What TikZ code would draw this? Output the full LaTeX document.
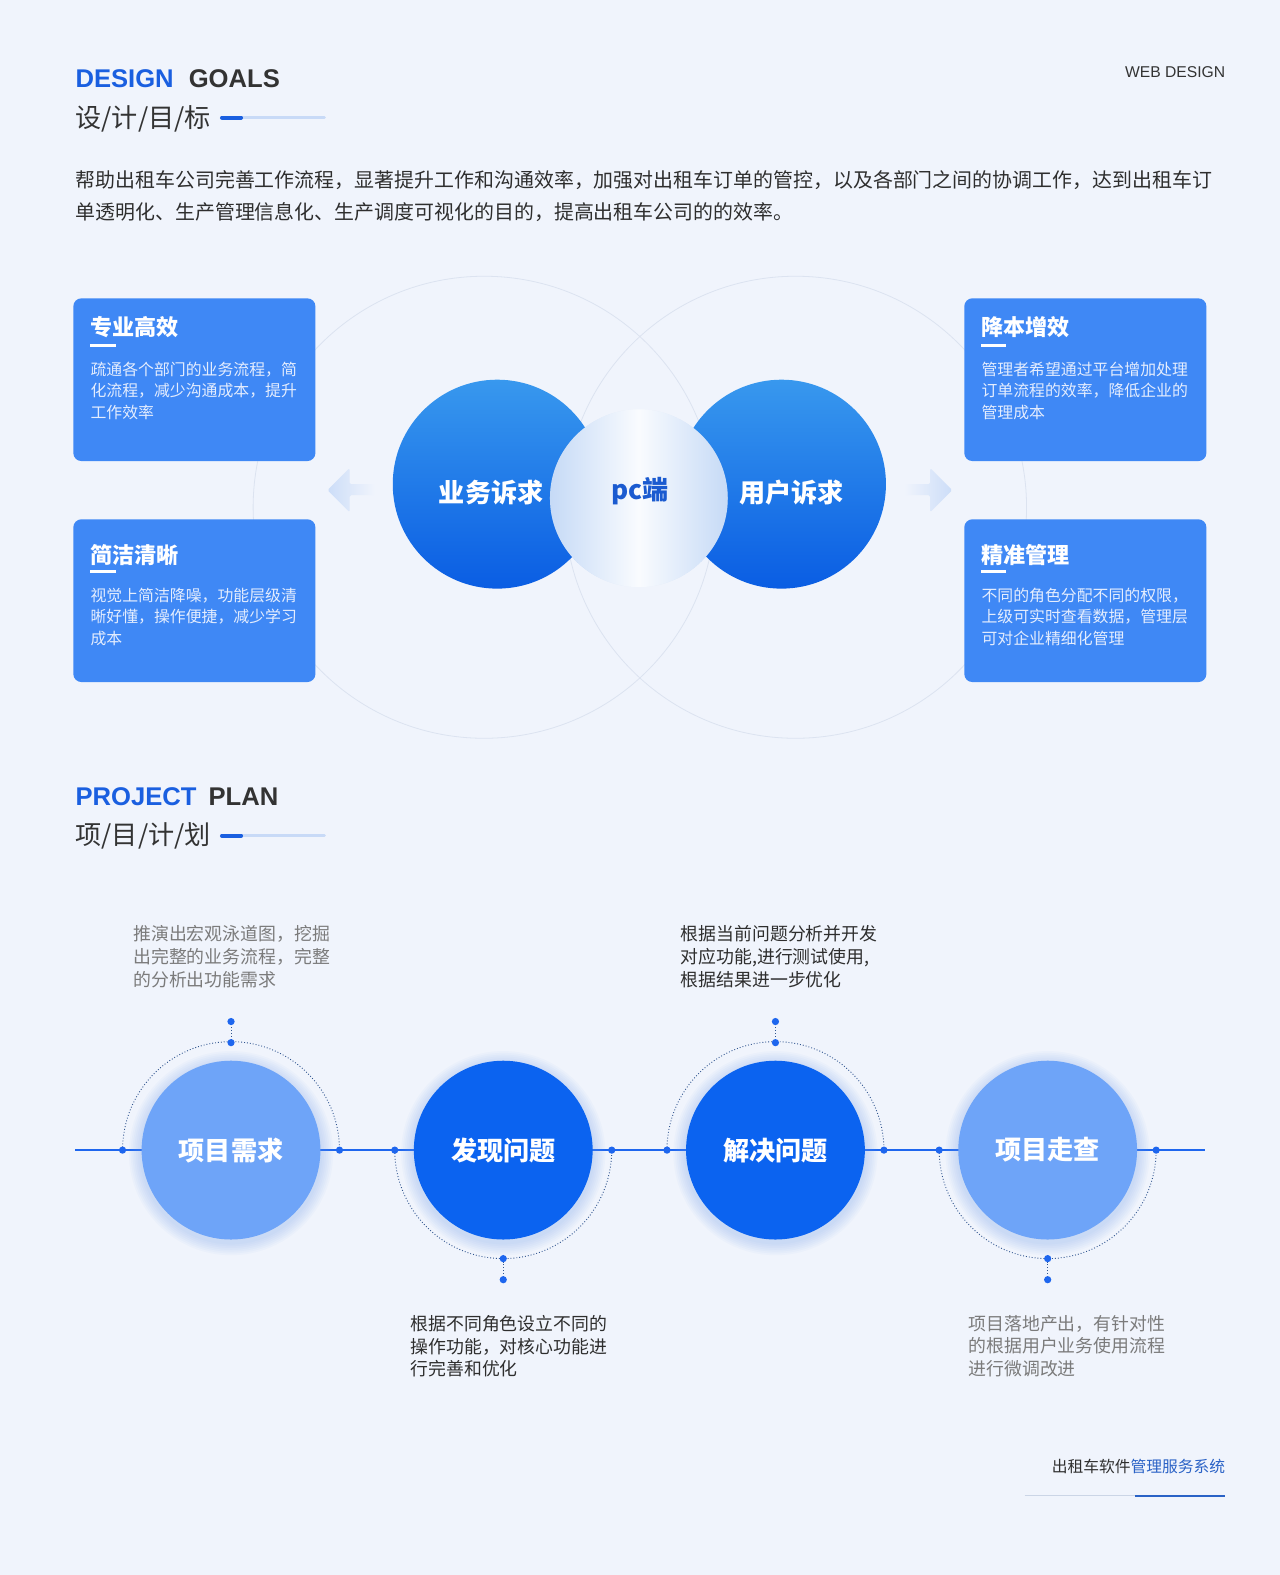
\documentclass[tikz,border=0pt]{standalone}
\usepackage{fontspec}
\setmainfont{Noto Sans CJK SC}
\newfontfamily\latinhead{Liberation Sans}
\usetikzlibrary{positioning,fadings}
\definecolor{pageBg}{HTML}{F0F4FC}
\definecolor{headBlue}{HTML}{1A5FE0}
\definecolor{headDark}{HTML}{333333}
\definecolor{ruleLight}{HTML}{C8DAF7}
\definecolor{bodyInk}{HTML}{2E2E2E}
\definecolor{noteGrey}{HTML}{7B7B7B}
\definecolor{cardBlue}{HTML}{3F88F5}
\definecolor{cardText}{HTML}{E4EDFE}
\definecolor{orbTop}{HTML}{3898EE}
\definecolor{orbBottom}{HTML}{0A5DE3}
\definecolor{glassEdge}{HTML}{8DB6EE}
\definecolor{glassCore}{HTML}{F4F8FE}
\definecolor{pcInk}{HTML}{1B5BD0}
\definecolor{ghostLine}{HTML}{DCE3F0}
\definecolor{ghostArrow}{HTML}{CCDDF8}
\definecolor{stepLight}{HTML}{6EA4F8}
\definecolor{stepDeep}{HTML}{0B63F0}
\definecolor{glowBlue}{HTML}{6C9CF2}
\definecolor{lineBlue}{HTML}{1E66EE}
\definecolor{dotInk}{HTML}{30558F}
\definecolor{footBlue}{HTML}{2A62C6}
\definecolor{footRule}{HTML}{CBD5E6}

\tikzfading[name=glassveil, top color=transparent!50, middle color=transparent!100, bottom color=transparent!50]

\begin{document}
\begin{tikzpicture}[
  x=1pt, y=-1pt,
  headword/.style={inner sep=0pt, text=headDark, font=\latinhead\bfseries\fontsize{25.5}{30}\selectfont},
  subhead/.style={anchor=west, inner sep=0pt, text=headDark, font=\fontsize{26}{30}\selectfont},
  ruleSoft/.style={ruleLight, line width=3pt, line cap=round},
  ruleStrong/.style={headBlue, line width=4pt, line cap=round},
  lead/.style={anchor=north west, inner sep=0pt, align=left, text=bodyInk, font=\fontsize{19.85}{31}\selectfont},
  card/.style={rounded corners=8pt, fill=cardBlue, minimum width=241pt, minimum height=162pt, inner sep=0pt},
  cardtitle/.style={anchor=west, inner sep=0pt, text=white, font=\fontsize{22}{26}\selectfont\bfseries},
  cardtext/.style={anchor=north west, inner sep=0pt, align=left, text=cardText, font=\fontsize{15.8}{21.6}\selectfont},
  cardrule/.style={white, line width=2.5pt},
  ghost/.style={ghostLine, line width=0.8pt},
  orb/.style={circle, minimum size=208pt, inner sep=0pt, top color=orbTop, bottom color=orbBottom},
  orblabel/.style={inner sep=0pt, text=white, font=\fontsize{26}{30}\selectfont\bfseries},
  glass/.style={circle, minimum size=177pt, inner sep=0pt, left color=glassEdge, right color=glassEdge, middle color=glassCore},
  pclabel/.style={inner sep=0pt, text=pcInk, font=\fontsize{26}{30}\selectfont\bfseries},
  timeline/.style={lineBlue, line width=2pt},
  stepdisc/.style={circle, minimum size=178pt, inner sep=0pt, text=white, font=\fontsize{26}{30}\selectfont\bfseries},
  dotarc/.style={dotInk, line width=0.9pt, dash pattern=on 0.9pt off 2pt},
  knob/.style={fill=lineBlue},
  note/.style={anchor=north west, inner sep=0pt, align=left, font=\fontsize{17.8}{22.5}\selectfont}
]
\useasboundingbox[fill=pageBg] (0,0) rectangle (1274,1568);

  % ----------------------------------------------------
  % Header: DESIGN GOALS
  % ----------------------------------------------------
  \node[headword, anchor=base west] (goalsHead) at (75,87) {\textcolor{headBlue}{DESIGN}\hspace{15pt}GOALS};
  \node[subhead] (goalsSub) at (75,118) {设/计/目/标};
  \coordinate (goalsRuleA) at (221,117);
  \coordinate (goalsRuleB) at (323,117);
  \coordinate (goalsRuleC) at (240,117);
  \draw[ruleSoft] (goalsRuleA) -- (goalsRuleB);
  \draw[ruleStrong] (goalsRuleA) -- (goalsRuleC);

  \node[inner sep=0pt, anchor=east, text=headDark, font=\latinhead\fontsize{15.6}{18}\selectfont] (webTag) at (1220,72) {WEB DESIGN};

  \node[lead] (goalsLead) at (75,170) {帮助出租车公司完善工作流程，显著提升工作和沟通效率，加强对出租车订单的管控，以及各部门之间的协调工作，达到出租车订\\单透明化、生产管理信息化、生产调度可视化的目的，提高出租车公司的的效率。};

  % ----------------------------------------------------
  % Goals: faint rings, arrows, cards, orbs
  % ----------------------------------------------------
  \draw[ghost] (482,505) circle[radius=230pt];
  \draw[ghost] (792,505) circle[radius=230pt];

  \shade[left color=ghostArrow, right color=pageBg, rounded corners=1.5pt]
    (326,488) -- (348,466) -- (348,482) -- (373,482) -- (373,493) -- (348,493) -- (348,510) -- cycle;
  \shade[left color=pageBg, right color=ghostArrow, rounded corners=1.5pt]
    (948,488) -- (926,466) -- (926,482) -- (900,482) -- (900,493) -- (926,493) -- (926,510) -- cycle;

  % card 1
  \node[card] (cardPro) at (193.5,378) {};
  \node[cardtitle] (cardProTitle) at (90,326) {专业高效};
  \draw[cardrule] (90,344) -- (115,344);
  \node[cardtext] (cardProText) at (90,360) {疏通各个部门的业务流程，简\\化流程，减少沟通成本，提升\\工作效率};

  % card 2
  \node[card] (cardCost) at (1080.5,378) {};
  \node[cardtitle] (cardCostTitle) at (977,326) {降本增效};
  \draw[cardrule] (977,344) -- (1002,344);
  \node[cardtext] (cardCostText) at (977,360) {管理者希望通过平台增加处理\\订单流程的效率，降低企业的\\管理成本};

  % card 3
  \node[card] (cardClear) at (193.5,598) {};
  \node[cardtitle] (cardClearTitle) at (90,553) {简洁清晰};
  \draw[cardrule] (90,569) -- (115,569);
  \node[cardtext] (cardClearText) at (90,585) {视觉上简洁降噪，功能层级清\\晰好懂，操作便捷，减少学习\\成本};

  % card 4
  \node[card] (cardExact) at (1080.5,598) {};
  \node[cardtitle] (cardExactTitle) at (977,553) {精准管理};
  \draw[cardrule] (977,569) -- (1002,569);
  \node[cardtext] (cardExactText) at (977,585) {不同的角色分配不同的权限，\\上级可实时查看数据，管理层\\可对企业精细化管理};

  % orbs
  \node[orb] (bizOrb) at (495,482) {};
  \node[orb] (userOrb) at (778,482) {};
  \node[glass] (pcOrb) at (636,496) {};
  \fill[white, path fading=glassveil] (pcOrb.center) circle[radius=88.5pt];
  \node[orblabel] (bizLabel) at (489,490) {业务诉求};
  \node[orblabel] (userLabel) at (788,490) {用户诉求};
  \node[pclabel] (pcLabel) at (637,489) {pc端};

  % ----------------------------------------------------
  % Header: PROJECT PLAN
  % ----------------------------------------------------
  \node[headword, anchor=base west] (planHead) at (75,802) {\textcolor{headBlue}{PROJECT}\hspace{12pt}PLAN};
  \node[subhead] (planSub) at (75,832) {项/目/计/划};
  \coordinate (planRuleA) at (221,832);
  \coordinate (planRuleB) at (323,832);
  \coordinate (planRuleC) at (240,832);
  \draw[ruleSoft] (planRuleA) -- (planRuleB);
  \draw[ruleStrong] (planRuleA) -- (planRuleC);

  % ----------------------------------------------------
  % Timeline with four steps
  % ----------------------------------------------------
  \coordinate (tlStart) at (75,1145);
  \coordinate (tlEnd) at (1200,1145);
  \draw[timeline] (tlStart) -- (tlEnd);

  \foreach \i/\cx/\fillc/\lbl/\endang/\apex/\tip in {
      1/230/stepLight/项目需求/0/1038/1017,
      2/501/stepDeep/发现问题/360/1253/1274,
      3/772/stepDeep/解决问题/0/1038/1017,
      4/1043/stepLight/项目走查/360/1253/1274} {
    \foreach \g in {1,...,7}
      \fill[glowBlue, opacity=0.045] (\cx,1148) circle[radius=89pt+\g*1.8pt];
    \node[stepdisc, fill=\fillc] (step\i) at (\cx,1145) {\lbl};
    \coordinate (step\i-l) at (\cx-108,1145);
    \coordinate (step\i-r) at (\cx+108,1145);
    \coordinate (step\i-a) at (\cx,\apex);
    \coordinate (step\i-t) at (\cx,\tip);
    \draw[dotarc] (step\i-l) arc[start angle=180, end angle=\endang, radius=108pt];
    \draw[dotarc] (step\i-a) -- (step\i-t);
    \foreach \k in {l,r,a,t}
      \fill[knob] (step\i-\k) circle[radius=3.6pt];
  }

  \node[note, text=noteGrey] (stepOneNote) at (132.5,921.5) {推演出宏观泳道图，挖掘\\出完整的业务流程，完整\\的分析出功能需求};
  \node[note, text=bodyInk] (stepThreeNote) at (677.5,921.5) {根据当前问题分析并开发\\对应功能,进行测试使用,\\根据结果进一步优化};
  \node[note, text=bodyInk] (stepTwoNote) at (408.5,1309.5) {根据不同角色设立不同的\\操作功能，对核心功能进\\行完善和优化};
  \node[note, text=noteGrey] (stepFourNote) at (964,1309) {项目落地产出，有针对性\\的根据用户业务使用流程\\进行微调改进};

  % ----------------------------------------------------
  % Footer
  % ----------------------------------------------------
  \node[inner sep=0pt, anchor=east, font=\fontsize{15.7}{18}\selectfont] (credit) at (1220,1460) {\textcolor{bodyInk}{出租车软件}\textcolor{footBlue}{管理服务系统}};
  \coordinate (creditRuleA) at (1020,1489);
  \coordinate (creditRuleB) at (1130,1489);
  \coordinate (creditRuleC) at (1220,1489);
  \draw[footRule, line width=1pt] (creditRuleA) -- (creditRuleB);
  \draw[footBlue, line width=2pt] (creditRuleB) -- (creditRuleC);

\end{tikzpicture}
\end{document}
